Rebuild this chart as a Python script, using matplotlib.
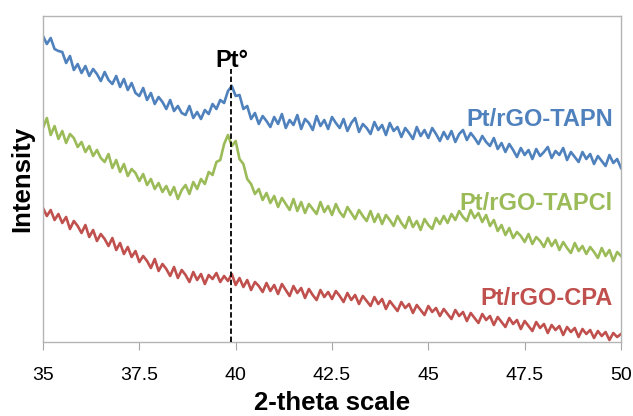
import matplotlib
matplotlib.use('Agg')
import matplotlib.pyplot as plt
import numpy as np

# 2-theta from 35 to 50 in 0.1 steps, intensities (arb. units)
two_theta_start = 35.0
two_theta_end = 50.0

tapn = [306, 298, 304, 293, 291, 290, 279, 286, 272, 278,
        269, 276, 266, 273, 268, 261, 270, 262, 258, 266,
        255, 263, 252, 259, 249, 246, 254, 242, 249, 238,
        245, 240, 233, 242, 231, 236, 229, 227, 236, 224,
        230, 223, 232, 228, 238, 233, 242, 239, 251, 256,
        246, 247, 233, 236, 223, 229, 218, 226, 221, 215,
        225, 218, 228, 214, 222, 217, 227, 213, 223, 219,
        212, 226, 216, 222, 213, 225, 219, 214, 223, 211,
        219, 224, 210, 218, 214, 208, 220, 212, 217, 207,
        219, 211, 215, 205, 214, 209, 203, 215, 206, 212,
        204, 214, 208, 201, 210, 203, 211, 200, 208, 212,
        202, 209, 204, 198, 206, 200, 196, 204, 193, 199,
        190, 198, 192, 185, 194, 187, 192, 183, 193, 186,
        190, 195, 184, 191, 187, 194, 182, 190, 185, 180,
        190, 183, 188, 178, 186, 181, 176, 187, 179, 183,
        174]

tapcl = [214, 224, 207, 216, 203, 211, 199, 208, 204, 195,
         200, 190, 196, 186, 192, 184, 180, 188, 174, 182,
         170, 178, 166, 173, 169, 161, 168, 157, 163, 153,
         159, 150, 156, 147, 155, 143, 152, 157, 148, 160,
         153, 163, 158, 170, 167, 180, 182, 198, 207, 196,
         201, 183, 178, 163, 158, 148, 153, 142, 149, 139,
         146, 135, 144, 138, 132, 143, 131, 140, 129, 138,
         133, 128, 140, 130, 136, 127, 138, 130, 125, 135,
         129, 123, 132, 126, 121, 131, 120, 128, 118, 127,
         122, 116, 126, 119, 114, 125, 115, 121, 112, 123,
         117, 113, 124, 118, 126, 119, 128, 122, 131, 125,
         121, 132, 124, 129, 120, 127, 116, 122, 111, 117,
         107, 114, 104, 110, 106, 100, 108, 98, 105, 101,
         95, 104, 96, 102, 92, 100, 94, 89, 99, 91,
         96, 88, 95, 90, 84, 94, 86, 92, 81, 90,
         86]

cpa = [134, 126, 132, 122, 128, 119, 125, 113, 121, 116,
       109, 117, 105, 112, 101, 108, 103, 96, 104, 92,
       99, 88, 95, 85, 91, 80, 86, 81, 74, 83,
       71, 78, 73, 66, 75, 64, 72, 67, 60, 70,
       62, 68, 58, 67, 63, 69, 60, 66, 61, 68,
       57, 64, 55, 62, 52, 60, 56, 50, 59, 51,
       57, 48, 58, 52, 46, 56, 49, 54, 44, 53,
       47, 42, 52, 45, 50, 43, 51, 46, 40, 49,
       42, 47, 38, 46, 41, 36, 45, 38, 43, 33,
       41, 36, 31, 40, 34, 38, 29, 37, 32, 27,
       36, 30, 34, 26, 33, 28, 23, 32, 26, 30,
       21, 29, 24, 19, 28, 22, 26, 17, 25, 20,
       15, 24, 18, 22, 13, 21, 16, 11, 20, 14,
       18, 9, 17, 12, 16, 7, 15, 10, 14, 5,
       13, 8, 12, 4, 11, 6, 10, 2, 9, 5,
       8]

series_names = ['Pt/rGO-TAPN', 'Pt/rGO-TAPCl', 'Pt/rGO-CPA']
series_colors = ['#4f81bd', '#9bbb59', '#c0504d']
label_y = [216, 132, 37]

tick_pos = [35, 37.5, 40, 42.5, 45, 47.5, 50]
tick_labels = ['35', '37.5', '40', '42.5', '45', '47.5', '50']

pt_pos = 39.87
pt_top = 273

fig = plt.figure(figsize=(6.33, 4.16), dpi=100)
ax = fig.add_axes([43/633, 1-342/416, 578/633, 326/416])

for vals, name, col, ly in zip([tapn, tapcl, cpa], series_names, series_colors, label_y):
    x = np.linspace(two_theta_start, two_theta_end, len(vals))
    ax.plot(x, vals, color=col, lw=1.9)
    ax.text(49.79, ly, name, color=col, ha='right', va='baseline',
            fontsize=17, fontweight='bold', family='Liberation Sans')

ax.vlines(pt_pos, 0, pt_top, colors='black', linestyles=(0, (3, 1.5)), lw=1.3, zorder=5)
ax.text(pt_pos + 0.03, 275, 'Pt°', ha='center', va='baseline',
        fontsize=17, fontweight='bold', family='Liberation Sans')

ax.set_xlim(35, 50)
ax.set_ylim(0, 326)
ax.set_xticks(tick_pos)
ax.set_xticklabels(tick_labels, fontsize=14, family='Liberation Sans')
ax.tick_params(axis='x', direction='out', length=6, color='#a6a6a6', pad=12)
ax.set_yticks([])
for s in ax.spines.values():
    s.set_color('#b4b4b4')
    s.set_linewidth(1.0)

fig.text(332/633, 1-410/416, '2-theta scale', ha='center', va='baseline',
         fontsize=18.5, fontweight='bold', family='Liberation Sans')
fig.text(22/633, 1-179/416, 'Intensity', ha='center', va='center', rotation=90,
         fontsize=18.5, fontweight='bold', family='Liberation Sans')

fig.savefig('out.png', dpi=100)
